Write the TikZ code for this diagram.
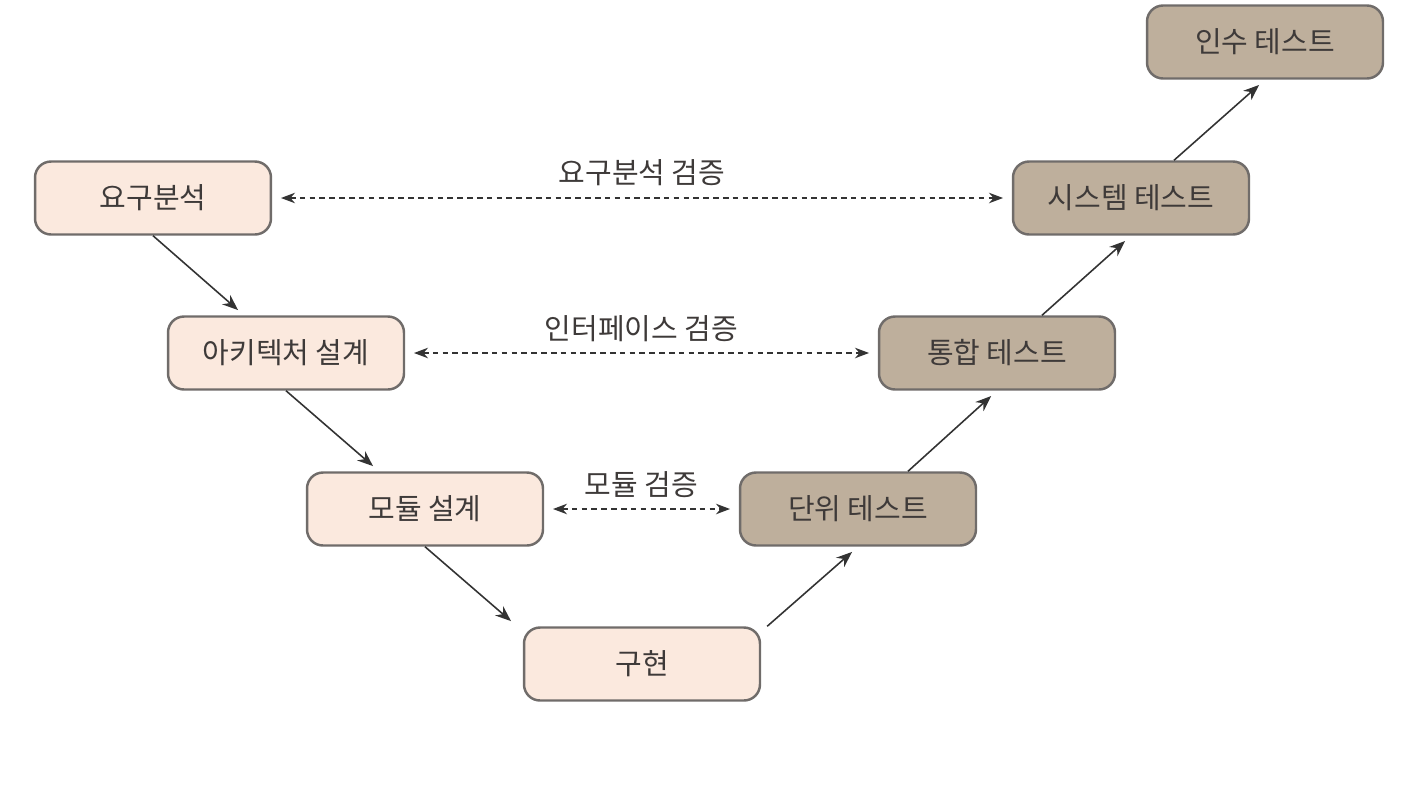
\documentclass[tikz,border=0pt]{standalone}
\usepackage{fontspec}
\setmainfont{Noto Sans CJK KR}
\usetikzlibrary{arrows.meta}
\definecolor{designfill}{RGB}{251,233,222}
\definecolor{testfill}{RGB}{190,175,156}
\definecolor{boxline}{RGB}{112,108,106}
\definecolor{textgray}{RGB}{62,58,57}
\tikzstyle{design} = [rectangle, rounded corners=0.32cm, minimum width=4.72cm, minimum height=1.46cm,text centered, draw=boxline, line width=1.4pt, fill=designfill]
\tikzstyle{test} = [design, fill=testfill]
\tikzstyle{arrow} = [line width=0.9pt,->,>={Stealth[length=9pt,width=7pt]}, draw=black!80, shorten >=4.5pt]
\tikzstyle{check} = [line width=0.7pt,<->,>={Stealth[length=8pt,width=6pt]}, draw=black!80, dash pattern=on 3.2pt off 2.4pt, shorten >=5pt, shorten <=5pt]

\begin{document}
\begin{tikzpicture}
			[x=0.02cm, y=-0.02cm, nodes={text=textgray, font=\fontsize{16.5}{19}\selectfont}]
			\useasboundingbox (0,0) rectangle (1414,795);
			% left side of the V
			\node (req) [design] at (153,198) {요구분석};
			\node (arch) [design] at (286,353) {아키텍처 설계};
			\node (mod) [design] at (425,509) {모듈 설계};
			\node (impl) [design] at (642,664) {구현};
			% right side of the V
			\node (unit) [test] at (858,509) {단위 테스트};
			\node (intg) [test] at (997,353) {통합 테스트};
			\node (sys) [test] at (1131,198) {시스템 테스트};
			\node (acc) [test] at (1265,42) {인수 테스트};
			\draw [arrow] (req.south) -- ([xshift=-0.84cm]arch.north);
			\draw [arrow] (arch.south) -- ([xshift=-0.92cm]mod.north);
			\draw [arrow] (mod.south) -- ([xshift=-2.5cm]impl.north);
			\draw [arrow] ([xshift=0.12cm]impl.north east) -- (unit.south);
			\draw [arrow] ([xshift=1cm]unit.north) -- (intg.south);
			\draw [arrow] ([xshift=0.9cm]intg.north) -- (sys.south);
			\draw [arrow] ([xshift=0.86cm]sys.north) -- (acc.south);
			\draw [check] (req) -- node[above=3pt] {요구분석 검증} (sys);
			\draw [check] (arch) -- node[above=2.5pt] {인터페이스 검증} (intg);
			\draw [check] (mod) -- node[above=2.5pt] {모듈 검증} (unit);
		\end{tikzpicture}
\end{document}
